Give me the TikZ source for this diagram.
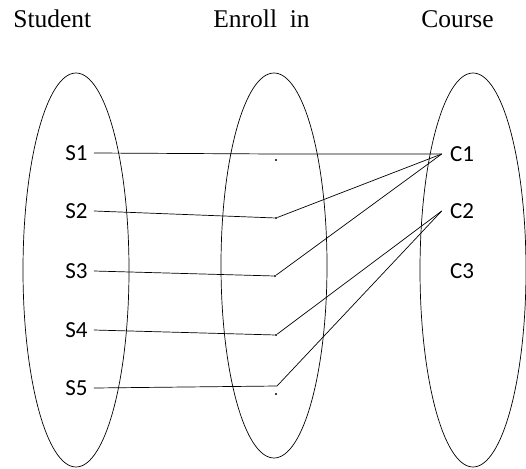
\documentclass[tikz,border=0pt]{standalone}
\usepackage{fontspec}
\setmainfont{Liberation Serif}
\newfontfamily\labelfont{Carlito}
\usetikzlibrary{shapes.geometric}

\begin{document}
\begin{tikzpicture}[x=1pt,y=-1pt,line width=0.7pt,
  set/.style={draw,ellipse,inner sep=0pt,minimum width=106pt},
  header/.style={anchor=base west,inner sep=0pt,font=\fontsize{25.5}{28}\selectfont},
  slabel/.style={inner xsep=6pt,inner ysep=0pt,font=\labelfont\fontsize{23}{26}\selectfont},
  clabel/.style={inner xsep=8pt,inner ysep=0pt,font=\labelfont\fontsize{23}{26}\selectfont},
  pt/.style={circle,fill,inner sep=0pt,minimum size=2.2pt}]
\useasboundingbox (0,0) rectangle (526,468);
\node[set,minimum height=394pt] (student) at (76,270) {};
\node[set,minimum height=385pt] (enroll) at (274,265.5) {};
\node[set,minimum height=394pt] (course) at (473,270) {};
\node[header] (h1) at (13,28) {Student};
\node[header] (h2) at (213,28) {Enroll\ \ in};
\node[header] (h3) at (421,28) {Course};
\node[slabel] (s1) at (76.5,153) {S1};
\node[slabel] (s2) at (76.5,211) {S2};
\node[slabel] (s3) at (76.5,271) {S3};
\node[slabel] (s4) at (76.5,330) {S4};
\node[slabel] (s5) at (76.5,388) {S5};
\node[clabel] (c1) at (462,154) {C1};
\node[clabel] (c2) at (462,211) {C2};
\node[clabel] (c3) at (462,271) {C3};
\node[pt] (d1) at (276,160) {};
\node[pt] (d2) at (276,218) {};
\node[pt] (d3) at (275,276) {};
\node[pt] (d4) at (276,335) {};
\node[pt] (d5) at (276,394) {};
\coordinate (e1) at (277,154);
\coordinate (e5) at (277,386);
\draw (s1.east) -- (e1) -- (c1.west);
\draw (s2.east) -- (d2) -- (c1.west);
\draw (s3.east) -- (d3) -- (c1.west);
\draw (s4.east) -- (d4) -- (c2.west);
\draw (s5.east) -- (e5) -- (c2.west);
\end{tikzpicture}
\end{document}
